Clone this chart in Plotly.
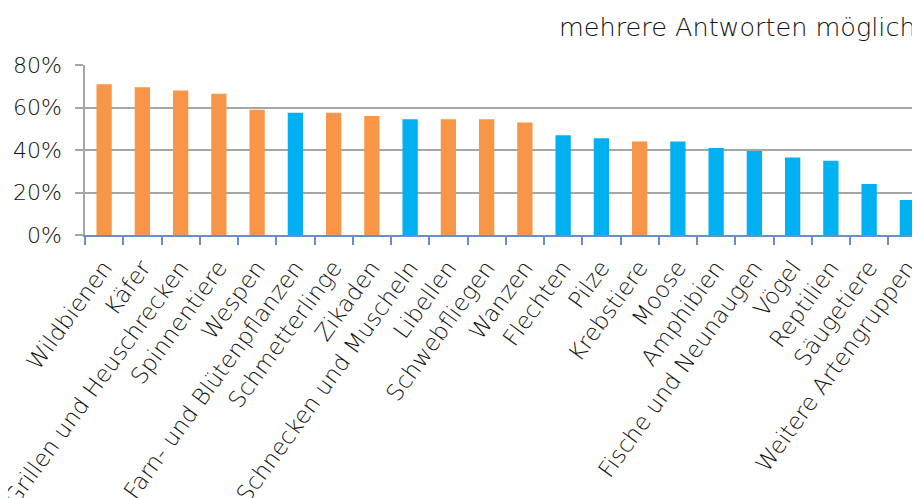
import plotly.graph_objects as go

categories = ["Wildbienen", "Käfer", "Grillen und Heuschrecken", "Spinnentiere", "Wespen",
              "Farn- und Blütenpflanzen", "Schmetterlinge", "Zikaden", "Schnecken und Muscheln",
              "Libellen", "Schwebfliegen", "Wanzen", "Flechten", "Pilze", "Krebstiere", "Moose",
              "Amphibien", "Fische und Neunaugen", "Vögel", "Reptilien", "Säugetiere",
              "Weitere Artengruppen"]
values = [71, 69.5, 68, 66.5, 59, 57.5, 57.5, 56, 54.5, 54.5, 54.5, 53, 47, 45.5, 44, 44,
          41, 39.5, 36.5, 35, 24, 16.5]
groups = ["o", "o", "o", "o", "o", "b", "o", "o", "b", "o", "o", "o", "b", "b", "o", "b",
          "b", "b", "b", "b", "b", "b"]
y_ticks = [0, 20, 40, 60, 80]
y_tick_labels = ["0%", "20%", "40%", "60%", "80%"]
note = "mehrere Antworten möglich"

color_map = {"o": "#F79646", "b": "#00B0F0"}
colors = [color_map[g] for g in groups]

FONT = "DejaVu Sans"
TXT = "#111111"
OFF = 8  # default page body margin

fig = go.Figure(go.Bar(
    x=categories, y=values, marker=dict(color=colors, line=dict(width=0)),
    width=0.4,
))

fig.update_layout(
    width=920 - OFF, height=498 - OFF,
    margin=dict(l=85 - OFF, r=0, t=65 - OFF, b=498 - 235 - 0),
    paper_bgcolor="white", plot_bgcolor="white",
    showlegend=False,
    font=dict(family=FONT, size=21, color=TXT, weight=200),
)
fig.update_xaxes(
    range=[-0.5, 21.33], tickangle=-54, automargin=False,
    showline=True, linecolor="#6A8EC8", linewidth=2,
    ticks="outside", tickson="boundaries", ticklen=8, tickcolor="#6A8EC8", tickwidth=2,
    ticklabelstandoff=8,
    showgrid=False, tickfont=dict(family=FONT, size=23, color=TXT, weight=200),
)
fig.update_yaxes(
    range=[0, 80], tickvals=y_ticks, ticktext=y_tick_labels, automargin=False,
    showgrid=True, gridcolor="#A6A6A6", gridwidth=1.5,
    showline=True, linecolor="#A6A6A6", linewidth=1.5,
    ticks="outside", ticklen=8, tickcolor="#A6A6A6", tickwidth=1.5,
    ticklabelstandoff=9,
    zeroline=False,
    tickfont=dict(family=FONT, size=22, color=TXT, weight=200),
)
fig.add_annotation(
    text=note, xref="paper", yref="paper", x=1, y=1, yanchor="bottom",
    xanchor="right", yshift=23, xshift=-4, showarrow=False, borderpad=0, borderwidth=0,
    font=dict(family=FONT, size=25.5, color=TXT, weight=200),
)

fig.write_html("out.html")
